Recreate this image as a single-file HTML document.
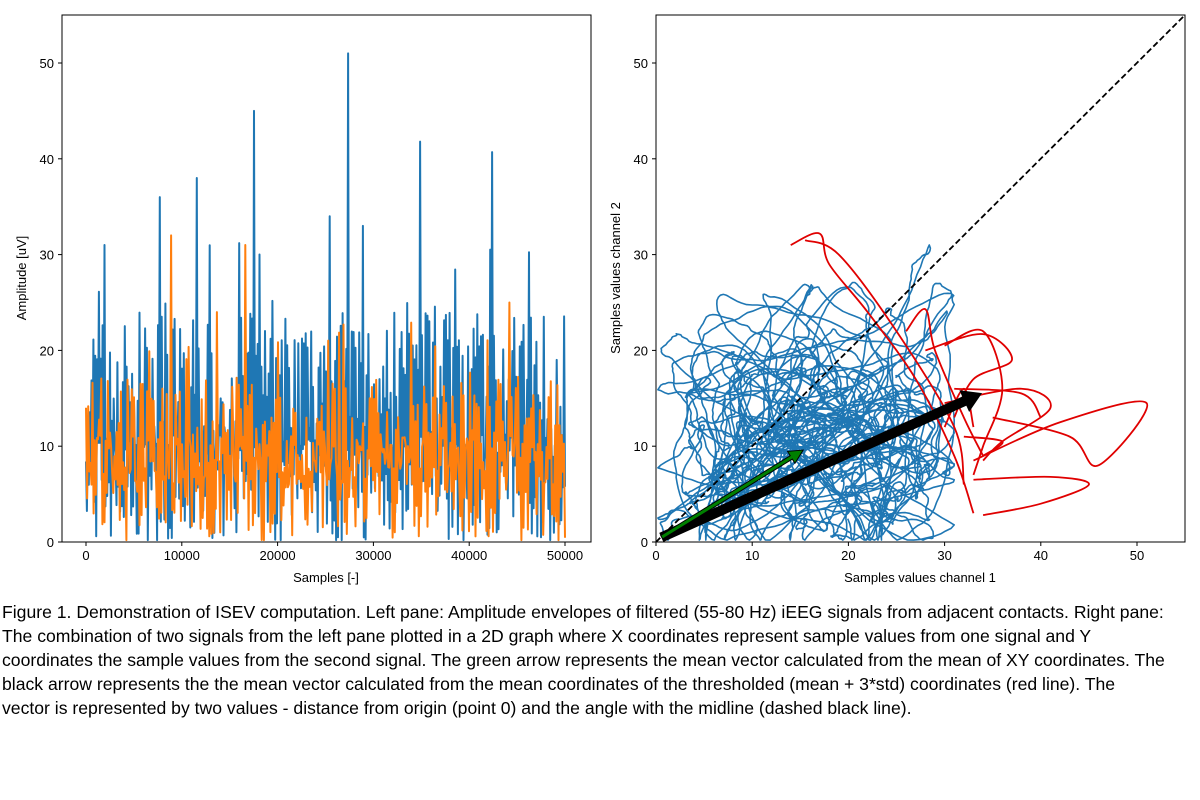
<!DOCTYPE html>
<html><head><meta charset="utf-8"><style>
body{margin:0;background:#fff;width:1200px;height:800px;overflow:hidden;position:relative;font-family:"Liberation Sans",sans-serif}
.cap{position:absolute;left:2px;top:600px;font-size:17.6px;line-height:24px;color:#000;white-space:nowrap}
svg text{font-family:"Liberation Sans",sans-serif;font-size:13px;fill:#000}
</style></head><body>
<svg id="s" width="1200" height="590" style="position:absolute;left:0;top:0">
<defs><clipPath id="cl"><rect x="62" y="15" width="529" height="527"/></clipPath>
<clipPath id="cr"><rect x="656" y="15" width="529" height="527"/></clipPath></defs>
<g id="L" clip-path="url(#cl)"></g>
<g id="R" clip-path="url(#cr)"></g>
<rect x="62" y="15" width="529" height="527" fill="none" stroke="#000" stroke-width="1"/>
<rect x="656" y="15" width="529" height="527" fill="none" stroke="#000" stroke-width="1"/>
<g id="T"></g>
<text x="326" y="582" text-anchor="middle">Samples [-]</text>
<text x="920" y="582" text-anchor="middle">Samples values channel 1</text>
<text transform="translate(26,278) rotate(-90)" text-anchor="middle">Amplitude [uV]</text>
<text transform="translate(620,278) rotate(-90)" text-anchor="middle">Samples values channel 2</text>
</svg>
<div class="cap">Figure 1. Demonstration of ISEV computation. Left pane: Amplitude envelopes of filtered (55-80 Hz) iEEG signals from adjacent contacts. Right pane:<br>The combination of two signals from the left pane plotted in a 2D graph where X coordinates represent sample values from one signal and Y<br>coordinates the sample values from the second signal. The green arrow represents the mean vector calculated from the mean of XY coordinates. The<br>black arrow represents the the mean vector calculated from the mean coordinates of the thresholded (mean + 3*std) coordinates (red line). The<br>vector is represented by two values - distance from origin (point 0) and the angle with the midline (dashed black line).</div>
<script>
var NS="http://www.w3.org/2000/svg";
function el(p,t,a){var e=document.createElementNS(NS,t);for(var k in a)e.setAttribute(k,a[k]);p.appendChild(e);return e;}
var seed=7;function rnd(){seed=(seed*16807)%2147483647;return seed/2147483647;}
var T=document.getElementById('T'),L=document.getElementById('L'),R=document.getElementById('R');
function lx(v){return 86+v*479/50000;} function y(v){return 542-v*9.58;} function rx(v){return 656+v*9.62;}
[0,10000,20000,30000,40000,50000].forEach(function(v){var X=lx(v);el(T,'line',{x1:X,x2:X,y1:542,y2:546,stroke:'#000'});var t=el(T,'text',{x:X,y:560,'text-anchor':'middle'});t.textContent=v;});
[0,10,20,30,40,50].forEach(function(v){var Y=y(v);
el(T,'line',{x1:58,x2:62,y1:Y,y2:Y,stroke:'#000'});var t=el(T,'text',{x:54,y:Y+5,'text-anchor':'end'});t.textContent=v;
el(T,'line',{x1:652,x2:656,y1:Y,y2:Y,stroke:'#000'});t=el(T,'text',{x:648,y:Y+5,'text-anchor':'end'});t.textContent=v;
var X=rx(v);el(T,'line',{x1:X,x2:X,y1:542,y2:546,stroke:'#000'});t=el(T,'text',{x:X,y:560,'text-anchor':'middle'});t.textContent=v;});
function poly(g,pts,c,w){el(g,'polyline',{points:pts.join(' '),fill:'none',stroke:c,'stroke-width':w,'stroke-linejoin':'round'});}
// left: alternating peaks/troughs
function sig(n,lo,hi,spk){var a=[];for(var i=0;i<n;i++){var v=(i%2==0)?hi*(0.35+0.65*rnd()):lo*rnd()*1.6; if(i%2==0&&rnd()<spk)v+=rnd()*10;a.push(Math.max(0.2,v));}return a;}
var b=sig(520,7,24,0.15);var peaks={182:45,284:51,362:41.8,440:40.7,120:38,80:36,20:31,166:31.2,264:34,300:33};
for(var k in peaks)b[k]=peaks[k];
var pb=b.map(function(v,i){return lx(i*50000/519).toFixed(1)+','+y(v).toFixed(1);});
poly(L,pb,'#1f77b4',2);
seed=99;var o=sig(440,7,17,0.12);o[78]=32;o[146]=31;o[120]=24;o[388]=25;
var po=o.map(function(v,i){return lx(i*50000/439).toFixed(1)+','+y(v).toFixed(1);});
poly(L,po,'#ff7f0e',2);
// right blue loops (smooth)
seed=31;var pr=[],x=15,yy=10,vx=0,vy=0;
for(var i=0;i<9000;i++){vx+=(rnd()-0.5)*0.55+(15-x)*0.0022;vy+=(rnd()-0.5)*0.55+(10-yy)*0.003;vx*=0.96;vy*=0.96;x+=vx*0.5;yy+=vy*0.5;
if(x<0.2){x=0.2;vx=Math.abs(vx);} if(yy<0.2){yy=0.2;vy=Math.abs(vy);} if(x>31){x=31;vx=-Math.abs(vx);} if(yy>31){yy=31;vy=-Math.abs(vy);}
pr.push(rx(x).toFixed(1)+','+y(yy).toFixed(1));}
poly(R,pr,'#1f77b4',1.6);
// red smooth curves (catmull-rom)
function cr(pts){var d='M'+pts[0][0]+','+pts[0][1];for(var i=0;i<pts.length-1;i++){var p0=pts[i-1]||pts[i],p1=pts[i],p2=pts[i+1],p3=pts[i+2]||p2;
d+=' C'+(p1[0]+(p2[0]-p0[0])/6)+','+(p1[1]+(p2[1]-p0[1])/6)+' '+(p2[0]-(p3[0]-p1[0])/6)+','+(p2[1]-(p3[1]-p1[1])/6)+' '+p2[0]+','+p2[1];}return d;}
var reds=[[[14,31],[17,32.2],[18,29],[22,24],[27,17],[31,9],[33,3]],
[[15.5,31.5],[19,30],[25,22],[31,12],[32,6]],
[[26,22],[28,24.3],[29,20],[32,13],[34,9]],
[[28,20],[34,21.7],[37,19],[33,17],[31,13]],
[[30,20.5],[34,22],[36,16],[34,10],[33,7]],
[[30,14.5],[38,16],[41,14],[36,10.5],[34,8.5]],
[[31,16],[38,15.5],[40,13]],
[[32,11],[36,10.5],[34,9]],
[[33,8.5],[42,12.5],[51,14.5],[46,8],[43,11],[35,13]],
[[33,6.5],[41,6.8],[45,6],[40,4],[34,2.8]],
[[30,12],[32,16],[33,12]]];
reds.forEach(function(r){el(R,'path',{d:cr(r.map(function(q){return [rx(q[0]),y(q[1])];})),fill:'none',stroke:'#e00000','stroke-width':1.8});});
el(R,'line',{x1:656,y1:542,x2:1185,y2:15,stroke:'#000','stroke-width':1.8,'stroke-dasharray':'6,3'});
function arrow(x1,y1,x2,y2,w,hw,hl,c){var dx=x2-x1,dy=y2-y1,L=Math.hypot(dx,dy),ux=dx/L,uy=dy/L,nx=-uy,ny=ux;var bx=x2-ux*hl,by=y2-uy*hl;
var pts=[[x1+nx*w/2,y1+ny*w/2],[bx+nx*w/2,by+ny*w/2],[bx+nx*hw,by+ny*hw],[x2,y2],[bx-nx*hw,by-ny*hw],[bx-nx*w/2,by-ny*w/2],[x1-nx*w/2,y1-ny*w/2]];
el(R,'polygon',{points:pts.map(function(p){return p.join(',')}).join(' '),fill:c,stroke:'#000','stroke-width':1});}
arrow(rx(0.6),y(0.5),rx(33.8),y(15.5),9,11,18,'#000');
arrow(rx(0.6),y(0.5),rx(15.3),y(9.6),4,7,14,'#008000');
</script>
</body></html>
